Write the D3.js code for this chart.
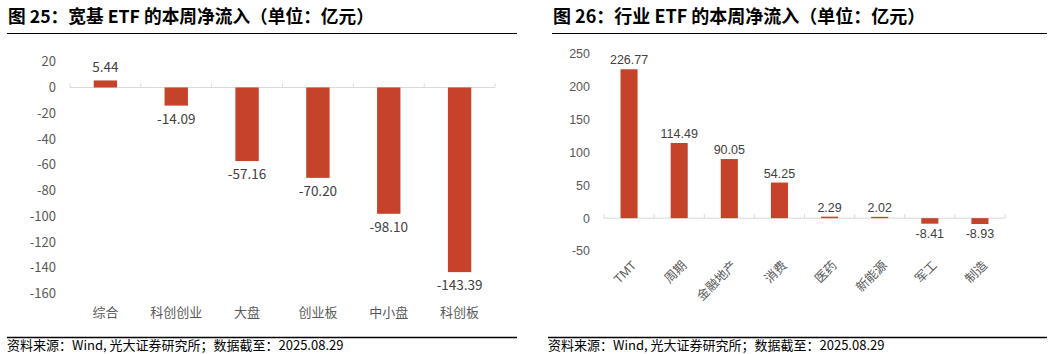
<!DOCTYPE html>
<html>
<head>
<meta charset="utf-8">
<script src="https://cdn.jsdelivr.net/npm/d3@7"></script>
<style>
  body { margin: 0; background: #fff; }
  svg { display: block; }
</style>
</head>
<body>
<div id="chart"></div>
<script>
////////////////////////////////////////////////////////////////////////
// Data

// broad-based ETF weekly net inflow (亿元)
let broadCats = ["综合", "科创创业", "大盘", "创业板", "中小盘", "科创板"];
let broadVals = [5.44, -14.09, -57.16, -70.20, -98.10, -143.39];
let broadTicks = [20, 0, -20, -40, -60, -80, -100, -120, -140, -160];

// industry ETF weekly net inflow (亿元)
let indCats = ["TMT", "周期", "金融地产", "消费", "医药", "新能源", "军工", "制造"];
let indVals = [226.77, 114.49, 90.05, 54.25, 2.29, 2.02, -8.41, -8.93];
let indTicks = [250, 200, 150, 100, 50, 0, -50];

let titles = ["图 25：宽基 ETF 的本周净流入（单位：亿元）", "图 26：行业 ETF 的本周净流入（单位：亿元）"];
let source = "资料来源：Wind, 光大证券研究所；数据截至：2025.08.29";

////////////////////////////////////////////////////////////////////////
// SVG

let width = 1054;
let height = 354;
let barColor = "#c4432a";
let cjk = "'Noto Sans CJK SC', 'Noto Sans', sans-serif";
let arial = "'Liberation Sans', Arial, 'Noto Sans CJK SC', sans-serif";

let svg = d3.select("#chart")
  .append("svg")
  .attr("width", width).attr("height", height);

// frame: title, rules and source for one panel
function drawFrame(x0, x1, tx, title, size) {
  svg.append("text")
    .attr("x", tx).attr("y", 23)
    .style("font-family", cjk).style("font-size", size).style("font-weight", "bold")
    .style("fill", "#000")
    .text(title);
  svg.append("line")
    .attr("x1", tx - 1).attr("x2", x1).attr("y1", 33.5).attr("y2", 33.5)
    .style("stroke", "#000").style("stroke-width", 1);
  svg.append("line")
    .attr("x1", x0).attr("x2", x1).attr("y1", 337.5).attr("y2", 337.5)
    .style("stroke", "#000").style("stroke-width", 1.5);
  svg.append("text")
    .attr("x", x0).attr("y", 350)
    .style("font-family", cjk).style("font-size", "13px")
    .style("fill", "#000")
    .text(source);
}

// one bar chart
function drawBars(cfg) {
  let g = svg.append("g");

  let x = d3.scaleBand()
    .domain(cfg.cats)
    .range(cfg.xRange)
    .padding(0);

  let y = d3.scaleLinear()
    .domain(cfg.yDomain)
    .range(cfg.yRange);

  // y tick labels (no axis line)
  g.selectAll(".ylab")
    .data(cfg.ticks)
    .enter().append("text")
    .attr("class", "ylab")
    .attr("x", cfg.yLabX)
    .attr("y", d => y(d))
    .attr("dy", "0.35em")
    .attr("text-anchor", "end")
    .style("font-family", cfg.font).style("font-size", cfg.fontSize)
    .style("fill", "#595959")
    .text(d => d);

  // zero line with category tick marks
  g.append("line")
    .attr("x1", cfg.xRange[0]).attr("x2", cfg.xRange[1])
    .attr("y1", y(0)).attr("y2", y(0))
    .style("stroke", "#d9d9d9").style("stroke-width", 1);

  let bounds = cfg.cats.map(c => x(c)).concat([cfg.xRange[1]]);
  g.selectAll(".tick")
    .data(bounds)
    .enter().append("line")
    .attr("x1", d => d).attr("x2", d => d)
    .attr("y1", y(0)).attr("y2", y(0) - 4)
    .style("stroke", "#d9d9d9").style("stroke-width", 1);

  let data = cfg.cats.map((c, i) => ({ cat: c, val: cfg.vals[i] }));
  let bw = x.bandwidth() * cfg.barFrac;

  g.selectAll(".bar")
    .data(data)
    .enter().append("rect")
    .attr("class", "bar")
    .attr("x", d => x(d.cat) + (x.bandwidth() - bw) / 2)
    .attr("width", bw)
    .attr("y", d => y(Math.max(0, d.val)))
    .attr("height", d => Math.abs(y(d.val) - y(0)))
    .style("fill", barColor);

  // value labels
  g.selectAll(".val")
    .data(data)
    .enter().append("text")
    .attr("class", "val")
    .attr("x", d => x(d.cat) + x.bandwidth() / 2)
    .attr("y", d => d.val >= 0 ? y(d.val) - cfg.labGap : y(d.val) + cfg.labGap)
    .attr("dy", d => d.val >= 0 ? "0" : "0.75em")
    .attr("text-anchor", "middle")
    .style("font-family", cfg.font).style("font-size", cfg.valSize)
    .style("fill", "#404040")
    .text(d => d.val.toFixed(2));

  // category labels
  let cl = g.selectAll(".cat")
    .data(cfg.cats)
    .enter().append("text")
    .attr("class", "cat")
    .style("font-family", cfg.font).style("font-size", cfg.fontSize)
    .style("fill", "#595959")
    .text(d => d);

  if (cfg.rotate) {
    cl.attr("text-anchor", "end")
      .attr("dy", "0.35em")
      .attr("transform", d => "translate(" + (x(d) + x.bandwidth() / 2 + 5) + "," + cfg.catY + ") rotate(-45)");
  } else {
    cl.attr("text-anchor", "middle")
      .attr("x", d => x(d) + x.bandwidth() / 2)
      .attr("y", cfg.catY)
      .attr("dy", "0.35em");
  }
}

drawFrame(7, 517, 8, titles[0], "17.7px");
drawFrame(548, 1047, 553, titles[1], "18px");

drawBars({
  cats: broadCats, vals: broadVals, ticks: broadTicks,
  xRange: [70, 495], yDomain: [-160, 20], yRange: [293.5, 61.7],
  yLabX: 56, font: cjk, fontSize: "13px", valSize: "13.5px",
  barFrac: 0.33, labGap: 8, catY: 312, rotate: false
});

drawBars({
  cats: indCats, vals: indVals, ticks: indTicks,
  xRange: [604, 1005], yDomain: [-50, 250], yRange: [251, 54],
  yLabX: 590, font: arial, fontSize: "12.5px", valSize: "12.5px",
  barFrac: 0.34, labGap: 5, catY: 263, rotate: true
});
</script>
</body>
</html>
